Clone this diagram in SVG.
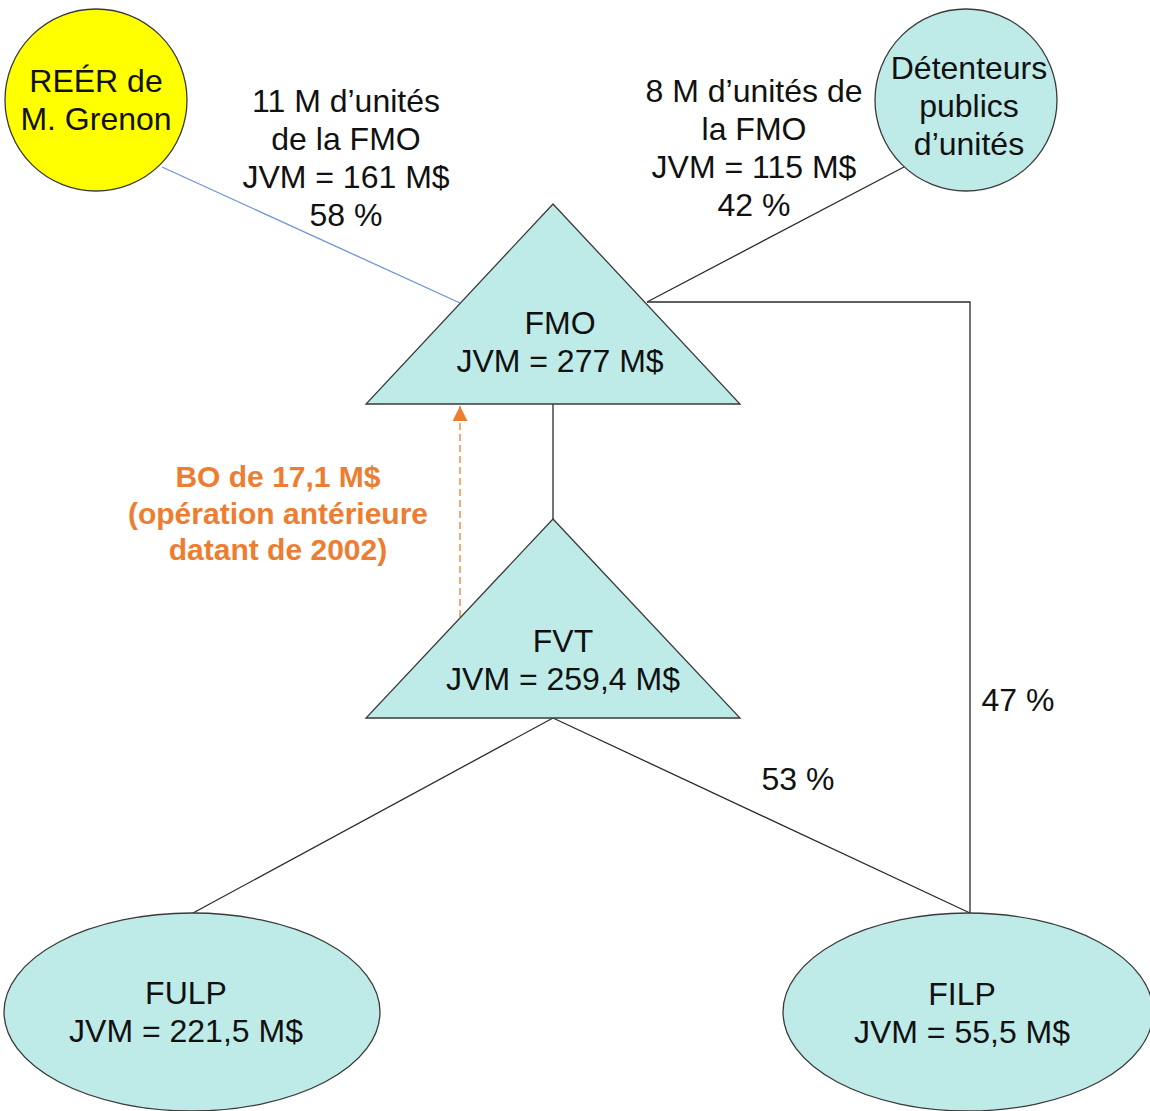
<svg xmlns="http://www.w3.org/2000/svg" width="1150" height="1111" viewBox="0 0 1150 1111">
  <defs>
    <style>
      .shape { fill: #BEEBE8; stroke: #3A3A3A; stroke-width: 1.3; }
      .owner { fill: #FFFF00; stroke: #3A3A3A; stroke-width: 1.3; }
      .lbl { font-family: "Liberation Sans", Arial, sans-serif; font-size: 32px; fill: #111111; text-anchor: middle; }
      .note { font-family: "Liberation Sans", Arial, sans-serif; font-size: 30px; font-weight: bold; fill: #ED7D31; text-anchor: middle; }
      .link { fill: none; stroke: #2B2B2B; stroke-width: 1.3; }
      .link-blue { fill: none; stroke: #6F93D9; stroke-width: 1.3; }
      .link-dash { fill: none; stroke: #ED7D31; stroke-width: 1.3; stroke-dasharray: 7 4; }
    </style>
    <marker id="arrow-orange" viewBox="0 0 10 10" refX="10" refY="5" markerWidth="15" markerHeight="15" markerUnits="userSpaceOnUse" orient="auto">
      <path d="M0,0 L10,5 L0,10 Z" fill="#ED7D31"/>
    </marker>
  </defs>

  <rect width="1150" height="1111" fill="#FFFFFF"/>

  <!-- connectors -->
  <g id="connectors">
    <line class="link-blue" x1="162" y1="167" x2="460" y2="303"/>
    <line class="link" x1="904" y1="167" x2="647" y2="302"/>
    <polyline class="link" points="647,302 970,302 970,913"/>
    <line class="link" x1="553" y1="404" x2="553" y2="519"/>
    <line class="link" x1="553" y1="718" x2="193" y2="913"/>
    <line class="link" x1="553" y1="718" x2="970" y2="913"/>
    <line class="link-dash" x1="460" y1="617" x2="460" y2="406" marker-end="url(#arrow-orange)"/>
  </g>

  <!-- edge labels -->
  <g id="labels">
    <text class="lbl" x="346" y="112">11 M d’unités</text>
    <text class="lbl" x="346" y="150">de la FMO</text>
    <text class="lbl" x="346" y="188">JVM = 161 M$</text>
    <text class="lbl" x="346" y="226">58 %</text>

    <text class="lbl" x="754" y="102">8 M d’unités de</text>
    <text class="lbl" x="754" y="140">la FMO</text>
    <text class="lbl" x="754" y="178">JVM = 115 M$</text>
    <text class="lbl" x="754" y="216">42 %</text>

    <text class="lbl" x="1018" y="711">47 %</text>
    <text class="lbl" x="798" y="790">53 %</text>

    <text class="note" x="278" y="487">BO de 17,1 M$</text>
    <text class="note" x="278" y="524">(opération antérieure</text>
    <text class="note" x="278" y="560">datant de 2002)</text>
  </g>

  <!-- nodes -->
  <g id="reer">
    <circle class="owner" cx="96" cy="100" r="91"/>
    <text class="lbl" x="96" y="92">REÉR de</text>
    <text class="lbl" x="96" y="130">M. Grenon</text>
  </g>

  <g id="detenteurs">
    <circle class="shape" cx="966" cy="100" r="91"/>
    <text class="lbl" x="969" y="79">Détenteurs</text>
    <text class="lbl" x="969" y="117">publics</text>
    <text class="lbl" x="969" y="155">d’unités</text>
  </g>

  <g id="fmo">
    <polygon class="shape" points="553,204 740,404 366,404"/>
    <text class="lbl" x="560" y="334">FMO</text>
    <text class="lbl" x="560" y="372">JVM = 277 M$</text>
  </g>

  <g id="fvt">
    <polygon class="shape" points="553,519 740,718 366,718"/>
    <text class="lbl" x="563" y="652">FVT</text>
    <text class="lbl" x="563" y="690">JVM = 259,4 M$</text>
  </g>

  <g id="fulp">
    <ellipse class="shape" cx="192" cy="1012" rx="188" ry="99"/>
    <text class="lbl" x="186" y="1004">FULP</text>
    <text class="lbl" x="186" y="1042">JVM = 221,5 M$</text>
  </g>

  <g id="filp">
    <ellipse class="shape" cx="968" cy="1012" rx="185" ry="99"/>
    <text class="lbl" x="962" y="1005">FILP</text>
    <text class="lbl" x="962" y="1043">JVM = 55,5 M$</text>
  </g>
</svg>
